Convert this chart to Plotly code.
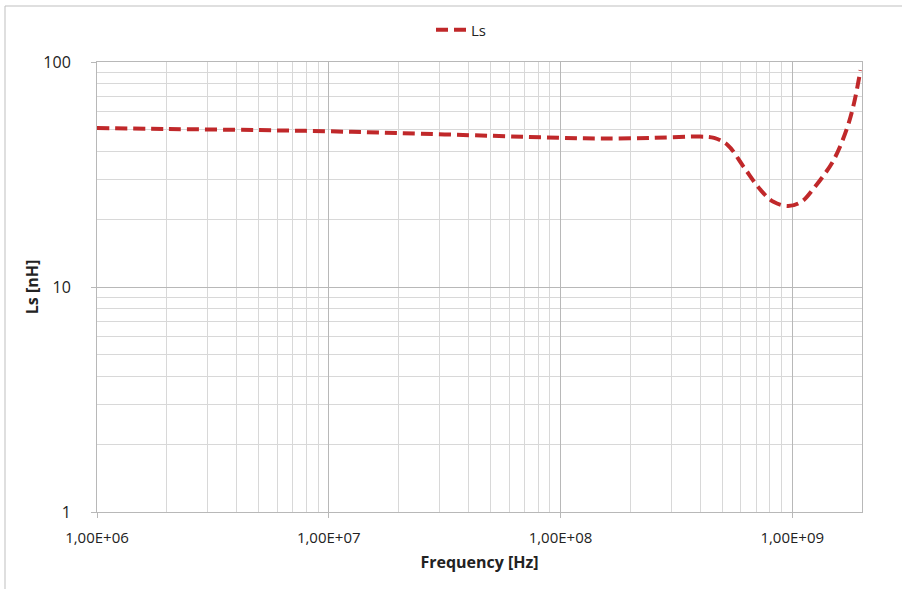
import plotly.graph_objects as go

freq_hz = [1e6, 2e6, 5e6, 1e7, 2e7, 5e7, 1e8, 1.5e8, 2.5e8, 4.0e8, 4.6e8, 5.26e8, 6.17e8, 7.3e8, 8.3e8, 9.6e8, 1.1e9, 1.24e9, 1.51e9, 1.73e9, 1.85e9, 1.97e9]
ls_nh = [50.9, 50.4, 49.8, 49.2, 48.3, 47.0, 46.0, 45.7, 46.0, 46.6, 46.0, 42.8, 34.2, 27.0, 23.9, 22.9, 24.0, 27.5, 36.7, 51.4, 66.0, 92.0]

x_tickvals = [1e6, 1e7, 1e8, 1e9]
x_ticktext = ["1,00E+06", "1,00E+07", "1,00E+08", "1,00E+09"]
y_tickvals = [1, 10, 100]
y_ticktext = ["1", "10", "100"]

x_minor = [m * 10 ** e for e in range(6, 10) for m in range(2, 10) if m * 10 ** e <= 2e9]
y_minor = [m * 10 ** e for e in range(0, 2) for m in range(2, 10)]

fig = go.Figure()
fig.add_trace(go.Scatter(
    x=freq_hz, y=ls_nh, mode="lines", name="Ls",
    line=dict(color="#C0282A", width=4, dash="12px,6px", shape="spline", smoothing=1.0),
))

font_family = "Open Sans, Liberation Sans, sans-serif"
fig.update_layout(
    width=902, height=589,
    paper_bgcolor="white", plot_bgcolor="white",
    margin=dict(l=97, r=40, t=62, b=77, autoexpand=False),
    font=dict(family=font_family, color="#222222"),
    showlegend=True,
    legend=dict(orientation="h", x=(461 - 97) / 765, xanchor="center", y=1 - 30 / 589, yanchor="middle",
                yref="container", font=dict(size=15)),
    xaxis=dict(
        type="log", range=[6, 9.30103],
        tickvals=x_tickvals, ticktext=x_ticktext, tickfont=dict(size=15),
        showgrid=True, gridcolor="#B8B8B8", gridwidth=1,
        showline=True, linecolor="#B8B8B8", ticks="outside", ticklen=5, tickcolor="#B8B8B8",
        ticklabelstandoff=7,
        minor=dict(tickvals=x_minor, showgrid=True, gridcolor="#D8D8D8", gridwidth=1, ticks=""),
        title=dict(text="<b>Frequency [Hz]</b>", font=dict(size=16), standoff=10),
        zeroline=False, mirror=True,
    ),
    yaxis=dict(
        type="log", range=[0, 2],
        tickvals=y_tickvals, ticktext=y_ticktext, tickfont=dict(size=16),
        showgrid=True, gridcolor="#B8B8B8", gridwidth=1,
        showline=True, linecolor="#B8B8B8", ticks="outside", ticklen=5, tickcolor="#B8B8B8",
        ticklabelstandoff=17,
        minor=dict(tickvals=y_minor, showgrid=True, gridcolor="#D8D8D8", gridwidth=1, ticks=""),
        title=dict(text="<b>Ls [nH]</b>", font=dict(size=16), standoff=0),
        zeroline=False, mirror=True,
    ),
)

# outer chart frame: only top and left edges are visible in the reference
px = lambda x: (x - 97) / 765
py = lambda y: (512 - y) / 450
fig.add_shape(type="line", xref="paper", yref="paper", x0=px(5), x1=px(902), y0=py(6), y1=py(6),
              line=dict(color="#BFBFBF", width=1), layer="below")
fig.add_shape(type="line", xref="paper", yref="paper", x0=px(5), x1=px(5), y0=py(6), y1=py(589),
              line=dict(color="#BFBFBF", width=1), layer="below")

fig.write_html("out.html", config={"displayModeBar": False},
               post_script="document.body.style.margin='0px';document.body.style.padding='0px';")
